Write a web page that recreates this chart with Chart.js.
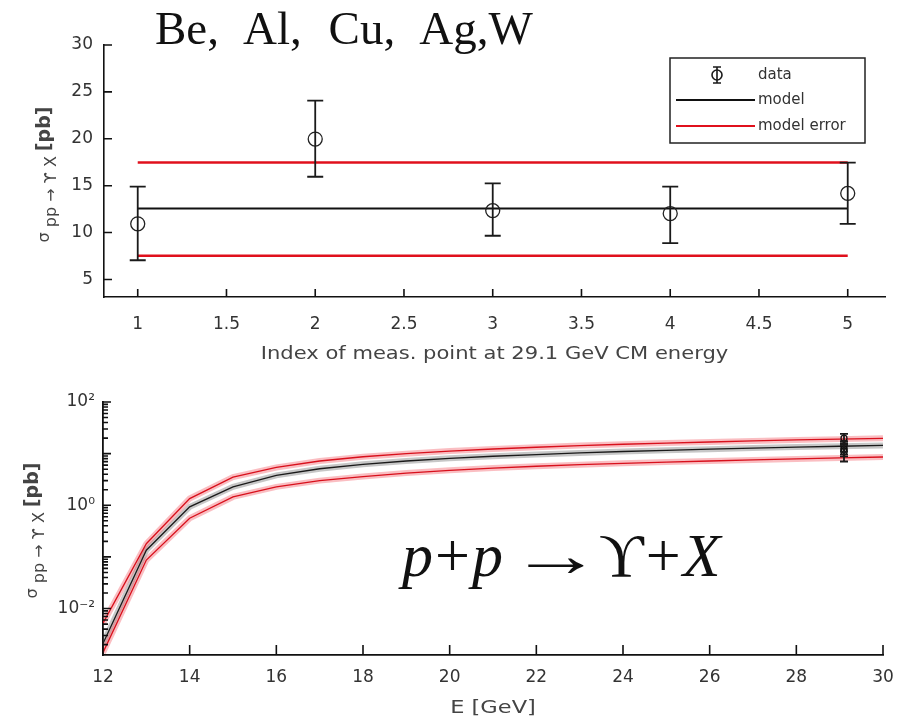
<!DOCTYPE html>
<html>
<head>
<meta charset="utf-8">
<script src="https://cdn.jsdelivr.net/npm/chart.js"></script>
<style>
    body { margin: 0; background: #fff; }
    #wrap { position: relative; width: 910px; height: 722px; overflow: hidden; }
    #top-chart { position: absolute; left: 0; top: 0; }
    #bottom-chart { position: absolute; left: 0; top: 380px; }
    .tex { position: absolute; font-family: "Liberation Serif", "DejaVu Serif", serif; color: #111; white-space: nowrap; line-height: 1; }
    .arrow { display: inline-block; transform: scaleX(1.5); margin: 0 10px 0 20px; font-weight: bold; }
</style>
</head>
<body>
<div id="wrap">
    <canvas id="top-chart" width="910" height="380"></canvas>
    <canvas id="bottom-chart" width="910" height="342"></canvas>
    <div class="tex" id="targets" style="left:155px; top:5px; font-size:47px; word-spacing:15px;">Be, Al, Cu, Ag,W</div>
    <div class="tex" id="reaction" style="left:402px; top:524px; font-size:62px; letter-spacing:2px;"><i>p</i>+<i>p</i><span class="arrow">→</span>ϒ+<i>X</i></div>
</div>

<script>
// top panel: five measurements at 29.1 GeV
const measIndex = [1, 2, 3, 4, 5];
const measValue = [10.93, 19.97, 12.34, 12.03, 14.18];
const measLow = [7.05, 15.95, 9.66, 8.88, 10.93];
const measHigh = [14.89, 24.07, 15.24, 14.89, 17.46];
const modelSpan = [1, 5];
const modelAt29 = 12.56;
const modelErrLow = 7.54;
const modelErrHigh = 17.46;
const topXTicks = [1, 1.5, 2, 2.5, 3, 3.5, 4, 4.5, 5];
const topYTicks = [5, 10, 15, 20, 25, 30];

// bottom panel: excitation function
const energy = [12, 13, 14, 15, 16, 17, 18, 19, 20, 21, 22, 23, 24, 25, 26, 27, 28, 29, 30];
const modelSigma = [0.0021, 0.135, 0.93, 2.27, 3.8, 5.1, 6.2, 7.2, 8.1, 8.9, 9.6, 10.3, 11.0, 11.6, 12.2, 12.8, 13.4, 13.9, 14.4];
const upperSigma = [0.0052, 0.18, 1.35, 3.5, 5.4, 7.2, 8.7, 10.0, 11.2, 12.3, 13.3, 14.3, 15.2, 16.0, 16.8, 17.6, 18.4, 19.1, 19.8];
const lowerSigma = [0.0014, 0.087, 0.56, 1.45, 2.27, 3.0, 3.6, 4.2, 4.75, 5.25, 5.7, 6.1, 6.5, 6.85, 7.2, 7.55, 7.9, 8.25, 8.6];
const measEnergy = 29.1;
const bottomXTicks = [12, 14, 16, 18, 20, 22, 24, 26, 28, 30];
const bottomYMajor = [0.01, 1, 100];
const bottomYLabels = ['10⁻²', '10⁰', '10²'];

const sans = '"DejaVu Sans", "Liberation Sans", sans-serif';
const red = '#e0101c';

function pts(xs, ys) {
    return xs.map((x, i) => ({ x: x, y: ys[i] }));
}

function inwardTicks(chart, lenX, lenY, lenMinor) {
    const { ctx, chartArea: a, scales: { x, y } } = chart;
    ctx.save();
    ctx.strokeStyle = '#111';
    ctx.lineWidth = 1.6;
    ctx.beginPath();
    x.ticks.forEach(t => {
        const p = x.getPixelForValue(t.value);
        ctx.moveTo(p, a.bottom);
        ctx.lineTo(p, a.bottom - lenX);
    });
    y.ticks.forEach(t => {
        const p = y.getPixelForValue(t.value);
        ctx.moveTo(a.left, p);
        ctx.lineTo(a.left + (t.minorTick ? lenMinor : lenY), p);
    });
    ctx.stroke();
    ctx.restore();
}

function errorBars(chart, cap) {
    const { ctx, scales: { x, y } } = chart;
    ctx.save();
    ctx.strokeStyle = '#1a1a1a';
    ctx.lineWidth = 1.8;
    chart.data.datasets.forEach(ds => {
        if (!ds.errLow) return;
        ds.data.forEach((p, i) => {
            const px = x.getPixelForValue(p.x);
            const lo = y.getPixelForValue(ds.errLow[i]);
            const hi = y.getPixelForValue(ds.errHigh[i]);
            ctx.beginPath();
            ctx.moveTo(px, lo); ctx.lineTo(px, hi);
            ctx.moveTo(px - cap, lo); ctx.lineTo(px + cap, lo);
            ctx.moveTo(px - cap, hi); ctx.lineTo(px + cap, hi);
            ctx.stroke();
        });
    });
    ctx.restore();
}

// sigma_{pp -> Upsilon X} [pb], rotated
function sigmaTitle(ctx, cx, cy) {
    const parts = [
        { t: 'σ', font: '16px ' + sans, dy: 0 },
        { t: 'pp → ϒ X', font: '16px ' + sans, dy: 7 },
        { t: '[pb]', font: 'bold 19px ' + sans, dy: 0 }
    ];
    ctx.save();
    ctx.translate(cx, cy);
    ctx.rotate(-Math.PI / 2);
    ctx.fillStyle = '#444';
    ctx.textBaseline = 'middle';
    let total = 0;
    parts.forEach(p => { ctx.font = p.font; p.w = ctx.measureText(p.t).width; total += p.w + 5; });
    let pos = -total / 2;
    parts.forEach(p => { ctx.font = p.font; ctx.fillText(p.t, pos, p.dy); pos += p.w + 5; });
    ctx.restore();
}

function xTitle(chart, text, y, stretch) {
    const { ctx, chartArea: a } = chart;
    ctx.save();
    ctx.translate((a.left + a.right) / 2, y);
    ctx.scale(stretch, 1);
    ctx.font = '18px ' + sans;
    ctx.fillStyle = '#444';
    ctx.textAlign = 'center';
    ctx.textBaseline = 'middle';
    ctx.fillText(text, 0, 0);
    ctx.restore();
}

function boxLegend(chart) {
    const ctx = chart.ctx;
    const ds = chart.data.datasets;
    const left = 670, top = 58, right = 865, bottom = 143;
    ctx.save();
    ctx.fillStyle = '#fff';
    ctx.fillRect(left, top, right - left, bottom - top);
    ctx.strokeStyle = '#222';
    ctx.lineWidth = 1.5;
    ctx.strokeRect(left, top, right - left, bottom - top);
    const rows = [75, 100, 126];
    // data symbol
    ctx.strokeStyle = '#1a1a1a';
    ctx.lineWidth = 1.6;
    ctx.beginPath();
    ctx.moveTo(717, rows[0] - 8); ctx.lineTo(717, rows[0] + 8);
    ctx.moveTo(713, rows[0] - 8); ctx.lineTo(721, rows[0] - 8);
    ctx.moveTo(713, rows[0] + 8); ctx.lineTo(721, rows[0] + 8);
    ctx.stroke();
    ctx.beginPath();
    ctx.arc(717, rows[0], 5, 0, Math.PI * 2);
    ctx.stroke();
    // model lines
    ctx.lineWidth = 2;
    ctx.strokeStyle = '#111';
    ctx.beginPath(); ctx.moveTo(676, rows[1]); ctx.lineTo(755, rows[1]); ctx.stroke();
    ctx.strokeStyle = red;
    ctx.beginPath(); ctx.moveTo(676, rows[2]); ctx.lineTo(755, rows[2]); ctx.stroke();
    ctx.font = '15px ' + sans;
    ctx.fillStyle = '#333';
    ctx.textBaseline = 'middle';
    ctx.fillText(ds[0].label, 758, rows[0]);
    ctx.fillText(ds[1].label, 758, rows[1]);
    ctx.fillText(ds[2].label, 758, rows[2]);
    ctx.restore();
}

const tickFont = { family: sans, size: 17 };

// ---------- top chart ----------
new Chart(document.getElementById('top-chart'), {
    type: 'scatter',
    data: {
        datasets: [
            {
                label: 'data',
                data: pts(measIndex, measValue),
                errLow: measLow,
                errHigh: measHigh,
                pointStyle: 'circle',
                pointRadius: 7,
                borderColor: '#222',
                borderWidth: 1.3,
                backgroundColor: 'rgba(0,0,0,0)',
                showLine: false,
                order: 0
            },
            {
                label: 'model',
                data: pts(modelSpan, [modelAt29, modelAt29]),
                showLine: true,
                borderColor: '#111',
                borderWidth: 2,
                pointRadius: 0,
                order: 2
            },
            {
                label: 'model error',
                data: pts(modelSpan, [modelErrHigh, modelErrHigh]),
                showLine: true,
                borderColor: red,
                borderWidth: 2.5,
                pointRadius: 0,
                order: 3
            },
            {
                label: 'model error low',
                data: pts(modelSpan, [modelErrLow, modelErrLow]),
                showLine: true,
                borderColor: red,
                borderWidth: 2.5,
                pointRadius: 0,
                order: 3
            }
        ]
    },
    options: {
        responsive: false,
        animation: false,
        devicePixelRatio: 1,
        layout: { padding: { top: 45, right: 25, left: 0, bottom: 0 } },
        plugins: { legend: { display: false }, tooltip: { enabled: false } },
        scales: {
            x: {
                type: 'linear',
                min: 0.81,
                max: 5.21,
                afterBuildTicks: s => { s.ticks = topXTicks.map(v => ({ value: v })); },
                afterFit: s => { s.height = 83; },
                grid: { display: false, drawTicks: false },
                border: { display: true, color: '#111', width: 1.6 },
                ticks: { autoSkip: false, maxRotation: 0, padding: 17, color: '#333', font: tickFont, callback: v => String(v) }
            },
            y: {
                type: 'linear',
                min: 3.13,
                max: 30,
                afterBuildTicks: s => { s.ticks = topYTicks.map(v => ({ value: v })); },
                afterFit: s => { s.width = 104; },
                grid: { display: false, drawTicks: false },
                border: { display: true, color: '#111', width: 1.6 },
                ticks: { autoSkip: false, padding: 11, color: '#333', font: tickFont, callback: v => String(v) }
            }
        }
    },
    plugins: [{
        id: 'topDecor',
        afterDatasetsDraw(chart) {
            errorBars(chart, 8);
        },
        afterDraw(chart) {
            inwardTicks(chart, 8, 8, 0);
            sigmaTitle(chart.ctx, 45, 172);
            xTitle(chart, 'Index of meas. point at 29.1 GeV CM energy', 354, 1.17);
            boxLegend(chart);
        }
    }]
});

// ---------- bottom chart ----------
function curve(label, values, color, halo) {
    return [
        { label: label + ' halo', data: pts(energy, values), showLine: true, borderColor: halo, borderWidth: 6, pointRadius: 0, order: 5 },
        { label: label, data: pts(energy, values), showLine: true, borderColor: color, borderWidth: 1.3, pointRadius: 0, order: 4 }
    ];
}

new Chart(document.getElementById('bottom-chart'), {
    type: 'scatter',
    data: {
        datasets: [
            ...curve('model error', upperSigma, '#d8101c', 'rgba(240,70,80,0.35)'),
            ...curve('model error low', lowerSigma, '#d8101c', 'rgba(240,70,80,0.35)'),
            ...curve('model', modelSigma, '#1a1a1a', 'rgba(0,0,0,0.22)'),
            {
                label: 'data',
                data: measValue.map(v => ({ x: measEnergy, y: v })),
                errLow: measLow,
                errHigh: measHigh,
                pointRadius: 3,
                borderColor: '#111',
                borderWidth: 1.3,
                backgroundColor: 'rgba(0,0,0,0)',
                showLine: false,
                order: 0
            }
        ]
    },
    options: {
        responsive: false,
        animation: false,
        devicePixelRatio: 1,
        layout: { padding: { top: 22, right: 27, left: 0, bottom: 0 } },
        plugins: { legend: { display: false }, tooltip: { enabled: false } },
        scales: {
            x: {
                type: 'linear',
                min: 12,
                max: 30,
                afterBuildTicks: s => { s.ticks = bottomXTicks.map(v => ({ value: v })); },
                afterFit: s => { s.height = 67; },
                grid: { display: false, drawTicks: false },
                border: { display: true, color: '#111', width: 1.8 },
                ticks: { autoSkip: false, maxRotation: 0, padding: 12, color: '#333', font: tickFont, callback: v => String(v) }
            },
            y: {
                type: 'logarithmic',
                min: 0.00126,
                max: 100,
                afterBuildTicks: s => {
                    const t = [];
                    for (let e = -3; e <= 1; e++) {
                        for (let m = 1; m <= 9; m++) {
                            const v = m * Math.pow(10, e);
                            if (v >= s.min * 0.999 && v <= s.max) t.push({ value: v, minorTick: m !== 1 });
                        }
                    }
                    t.push({ value: 100, minorTick: false });
                    s.ticks = t;
                },
                afterFit: s => { s.width = 103; },
                grid: { display: false, drawTicks: false },
                border: { display: true, color: '#111', width: 1.8 },
                ticks: {
                    autoSkip: false,
                    padding: 8,
                    color: '#333',
                    font: tickFont,
                    callback: v => {
                        const i = bottomYMajor.findIndex(m => Math.abs(Math.log10(m) - Math.log10(v)) < 1e-6);
                        return i >= 0 ? bottomYLabels[i] : '';
                    }
                }
            }
        }
    },
    plugins: [{
        id: 'bottomDecor',
        afterDatasetsDraw(chart) {
            errorBars(chart, 4);
        },
        afterDraw(chart) {
            inwardTicks(chart, 10, 8, 5);
            sigmaTitle(chart.ctx, 33, 148);
            xTitle(chart, 'E [GeV]', 328, 1.25);
        }
    }]
});
</script>
</body>
</html>
